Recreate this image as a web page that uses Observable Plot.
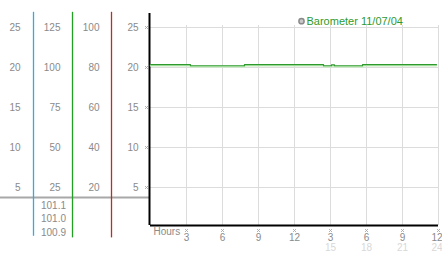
<!DOCTYPE html>
<html><head><meta charset="utf-8">
<script src="https://cdn.jsdelivr.net/npm/d3@7"></script>
<script src="https://cdn.jsdelivr.net/npm/@observablehq/plot@0.6"></script>
<style>html,body{margin:0;padding:0;background:#fff} svg{display:block}</style>
</head><body><div id="chart"></div>
<script>
// Barometer readings (hours since start, value on main 0-25 scale)
const hours      = [0,     3.33,  7.83,  14.42, 15.08, 15.33, 17.67, 23.83];
const baroValues = [20.35, 20.22, 20.35, 20.22, 20.32, 20.22, 20.35, 20.35];
const yTicks     = [5, 10, 15, 20, 25];
const col1Labels = ["5", "10", "15", "20", "25"];
const col2Labels = ["25", "50", "75", "100", "125"];
const col3Labels = ["20", "40", "60", "80", "100"];
const col4Labels = ["5", "10", "15", "20", "25"];
const xTicks     = [3, 6, 9, 12, 15, 18, 21, 24];
const xLabels    = ["3", "6", "9", "12", "3", "6", "9", "12"];
const xLabels2   = ["", "", "", "", "15", "18", "21", "24"];
const baroAxisLabels = ["101.1", "101.0", "100.9"];
const legendLabel = "Barometer 11/07/04";

const data = hours.map((h, i) => ({h, v: baroValues[i]}));
const ticks = yTicks.map((t, i) => ({t, c1: col1Labels[i], c2: col2Labels[i], c3: col3Labels[i], c4: col4Labels[i]}));
const xt = xTicks.map((t, i) => ({t, a: xLabels[i], b: xLabels2[i]}));
const xtInner = xt.slice(0, -1);
const xtLast = xt.slice(-1);
const baro = baroAxisLabels.map((s, i) => ({s, i}));

const gray = "#8a8a8a";
const chart = Plot.plot({
  width: 442, height: 253,
  marginLeft: 150, marginRight: 4, marginTop: 13, marginBottom: 28,
  x: {domain: [0, 24], axis: null},
  y: {domain: [0.25, 26.75], axis: null},
  style: {fontFamily: "Liberation Sans, Arial, sans-serif", fontSize: "10px", background: "#fff"},
  marks: [
    // grid
    Plot.ruleY(yTicks, {x1: 0, x2: 24, stroke: "#dcdcdc", strokeOpacity: 1}),
    Plot.ruleX(xTicks, {y1: 0.25, y2: 25.25, stroke: "#dcdcdc", strokeOpacity: 1}),
    // left panel decorations
    Plot.ruleY([3.75], {x1: -12.5, x2: 0, stroke: "#a8a8a8", strokeWidth: 2}),
    Plot.ruleX([0], {dx: -117, y1: 26.9, y2: -1.1, stroke: "#2eaee0", strokeOpacity: 1, strokeWidth: 1.3}),
    Plot.ruleX([0], {dx: -78, y1: 26.9, y2: -1.3, stroke: "#22a022", strokeOpacity: 1, strokeWidth: 1.3}),
    Plot.ruleX([0], {dx: -39, y1: 26.9, y2: -1.3, stroke: "#c02a2a", strokeOpacity: 1, strokeWidth: 1.3}),
    Plot.text(ticks, {y: "t", text: "c1", frameAnchor: "left", dx: -130, textAnchor: "end", fill: gray}),
    Plot.text(ticks, {y: "t", text: "c2", frameAnchor: "left", dx: -90, textAnchor: "end", fill: gray}),
    Plot.text(ticks, {y: "t", text: "c3", frameAnchor: "left", dx: -51, textAnchor: "end", fill: gray}),
    Plot.text(ticks, {y: "t", text: "c4", frameAnchor: "left", dx: -12, textAnchor: "end", fill: gray}),
    Plot.dot(ticks, {y: "t", frameAnchor: "left", dx: -4, symbol: "times", r: 1.4, stroke: "#aaa", strokeWidth: 1}),
    Plot.text(baro, {y: d => 2.75 - d.i * 1.7, text: "s", frameAnchor: "left", dx: -97, textAnchor: "middle", fill: gray}),
    // axes
    Plot.ruleX([0], {y1: 0.25, y2: 26.75, stroke: "#000", strokeWidth: 2, dx: -1}),
    Plot.ruleY([0.25], {x1: 0, x2: 24, stroke: "#000", strokeWidth: 2}),
    Plot.dot(xt, {x: "t", frameAnchor: "bottom", dy: 5, symbol: "times", r: 1.4, stroke: "#aaa", strokeWidth: 1}),
    Plot.text(xtInner, {x: "t", text: "a", frameAnchor: "bottom", lineAnchor: "middle", dy: 12, fill: gray}),
    Plot.text(xtInner, {x: "t", text: "b", frameAnchor: "bottom", lineAnchor: "middle", dy: 22, fill: "#d8d8d8"}),
    Plot.text(xtLast, {x: "t", text: "a", frameAnchor: "bottom", lineAnchor: "middle", textAnchor: "end", dx: 4, dy: 12, fill: gray}),
    Plot.text(xtLast, {x: "t", text: "b", frameAnchor: "bottom", lineAnchor: "middle", textAnchor: "end", dx: 4, dy: 22, fill: "#d8d8d8"}),
    Plot.text(["Hours"], {frameAnchor: "bottom-left", lineAnchor: "middle", dx: 3, dy: 6.5, textAnchor: "start", fill: gray}),
    // series
    Plot.line(data, {x: "h", y: "v", curve: "step-after", stroke: "#c2ecba", strokeWidth: 1.5, dy: 1}),
    Plot.line(data, {x: "h", y: "v", curve: "step-after", stroke: "#2e9a2e", strokeWidth: 1.2}),
    // legend
    Plot.dot([legendLabel], {frameAnchor: "top-left", dx: 151, dy: 7.7, r: 2.6, fill: "#c8c8c8", stroke: "#8a8a8a"}),
    Plot.text([legendLabel], {frameAnchor: "top-left", lineAnchor: "middle", dx: 156, dy: 7.7, textAnchor: "start", fill: "#2e9a2e", fontSize: 11})
  ]
});
document.getElementById("chart").appendChild(chart);
</script>
</body></html>
